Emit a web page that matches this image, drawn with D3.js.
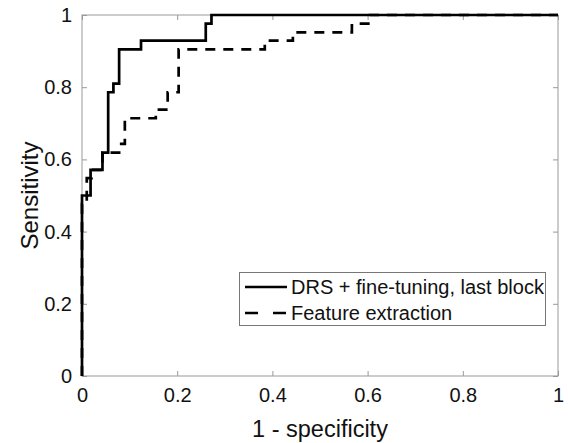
<!DOCTYPE html>
<html>
<head>
<meta charset="utf-8">
<script src="https://cdn.jsdelivr.net/npm/d3@7"></script>
<style>
  body { margin: 0; background: #fff; }
  svg { font-family: Arial, "Liberation Sans", sans-serif; }
</style>
</head>
<body>
<svg id="chart" width="568" height="443"></svg>
<script>
// ROC curve points (1 - specificity, sensitivity)
const fineTuneFpr  = [0, 0, 0.018, 0.018, 0.043, 0.043, 0.055, 0.055, 0.066, 0.066, 0.078, 0.078, 0.124, 0.124, 0.26, 0.26, 0.272, 0.272, 1];
const fineTuneTpr  = [0, 0.5, 0.5, 0.571, 0.571, 0.619, 0.619, 0.786, 0.786, 0.81, 0.81, 0.905, 0.905, 0.929, 0.929, 0.976, 0.976, 1, 1];

const featureFpr = [0, 0, 0.01, 0.01, 0.02, 0.02, 0.043, 0.043, 0.078, 0.078, 0.09, 0.09, 0.155, 0.155, 0.18, 0.18, 0.203, 0.203, 0.384, 0.384, 0.443, 0.443, 0.567, 0.567, 0.605, 0.605, 1];
const featureTpr = [0, 0.476, 0.476, 0.548, 0.548, 0.571, 0.571, 0.619, 0.619, 0.643, 0.643, 0.714, 0.714, 0.738, 0.738, 0.786, 0.786, 0.905, 0.905, 0.929, 0.929, 0.952, 0.952, 0.976, 0.976, 1, 1];

const seriesNames = ['DRS + fine-tuning, last block', 'Feature extraction'];
const tickValues = [0, 0.2, 0.4, 0.6, 0.8, 1];

const svg = d3.select('#chart');
const plotLeft = 82, plotRight = 558, plotTop = 15, plotBottom = 376;

const x = d3.scaleLinear().domain([0, 1]).range([plotLeft, plotRight]);
const y = d3.scaleLinear().domain([0, 1]).range([plotBottom, plotTop]);

const axisColor = '#999';
const fontFamily = 'Arial, "Liberation Sans", sans-serif';

// axes box
svg.append('rect')
  .attr('x', plotLeft).attr('y', plotTop)
  .attr('width', plotRight - plotLeft).attr('height', plotBottom - plotTop)
  .attr('fill', 'none')
  .attr('stroke', axisColor)
  .attr('stroke-width', 1);

// bottom axis, ticks pointing inwards
const xAxis = svg.append('g')
  .attr('transform', `translate(0,${plotBottom})`)
  .call(d3.axisBottom(x).tickValues(tickValues).tickSizeInner(-5).tickSizeOuter(0).tickPadding(12).tickFormat(d3.format('~g')));
xAxis.select('.domain').remove();
xAxis.selectAll('line').attr('stroke', axisColor);
xAxis.selectAll('text').attr('font-size', 20).attr('fill', '#111').attr('font-family', fontFamily);

// top mirror ticks
svg.append('g')
  .attr('transform', `translate(0,${plotTop})`)
  .call(d3.axisTop(x).tickValues(tickValues).tickSizeInner(-5).tickSizeOuter(0).tickFormat(''))
  .call(g => g.select('.domain').remove())
  .call(g => g.selectAll('line').attr('stroke', axisColor));

// left axis
const yAxis = svg.append('g')
  .attr('transform', `translate(${plotLeft},0)`)
  .call(d3.axisLeft(y).tickValues(tickValues).tickSizeInner(-5).tickSizeOuter(0).tickPadding(10).tickFormat(d3.format('~g')));
yAxis.select('.domain').remove();
yAxis.selectAll('line').attr('stroke', axisColor);
yAxis.selectAll('text').attr('font-size', 20).attr('fill', '#111').attr('font-family', fontFamily);

// right mirror ticks
svg.append('g')
  .attr('transform', `translate(${plotRight},0)`)
  .call(d3.axisRight(y).tickValues(tickValues).tickSizeInner(-5).tickSizeOuter(0).tickFormat(''))
  .call(g => g.select('.domain').remove())
  .call(g => g.selectAll('line').attr('stroke', axisColor));

// axis labels
svg.append('text')
  .attr('x', (plotLeft + plotRight) / 2)
  .attr('y', 437)
  .attr('text-anchor', 'middle')
  .attr('font-size', 23.5)
  .attr('fill', '#111')
  .text('1 - specificity');

svg.append('text')
  .attr('transform', `translate(38,${(plotTop + plotBottom) / 2}) rotate(-90)`)
  .attr('text-anchor', 'middle')
  .attr('font-size', 24)
  .attr('fill', '#111')
  .text('Sensitivity');

// curves
const line = d3.line().x(d => x(d[0])).y(d => y(d[1]));

svg.append('path')
  .datum(d3.zip(featureFpr, featureTpr))
  .attr('d', line)
  .attr('fill', 'none')
  .attr('stroke', '#000')
  .attr('stroke-width', 2.7)
  .attr('stroke-dasharray', '10,8');

svg.append('path')
  .datum(d3.zip(fineTuneFpr, fineTuneTpr))
  .attr('d', line)
  .attr('fill', 'none')
  .attr('stroke', '#000')
  .attr('stroke-width', 2.7);

// legend
const legend = svg.append('g');
legend.append('rect')
  .attr('x', 239.5).attr('y', 272.5)
  .attr('width', 306).attr('height', 53)
  .attr('fill', '#fff')
  .attr('stroke', '#777')
  .attr('stroke-width', 1);

const rows = [{ name: seriesNames[0], dash: null, cy: 287 }, { name: seriesNames[1], dash: '13,15', cy: 313 }];
rows.forEach(r => {
  legend.append('line')
    .attr('x1', 245).attr('x2', 287)
    .attr('y1', r.cy).attr('y2', r.cy)
    .attr('stroke', '#000')
    .attr('stroke-width', 2.7)
    .attr('stroke-dasharray', r.dash);
  legend.append('text')
    .attr('x', 291)
    .attr('y', r.cy)
    .attr('dy', '0.35em')
    .attr('font-size', 20)
    .attr('fill', '#111')
    .text(r.name);
});
</script>
</body>
</html>
